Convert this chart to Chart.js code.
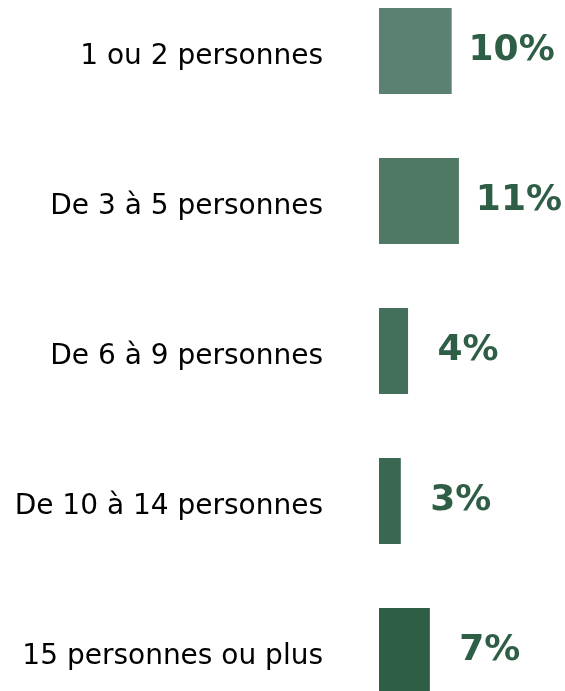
<!DOCTYPE html>
<html>
<head>
<meta charset="utf-8">
<script src="https://cdn.jsdelivr.net/npm/chart.js@4.4.1/dist/chart.umd.min.js"></script>
<style>
  html, body { margin: 0; padding: 0; background: #fff; overflow: hidden; }
  #myChart { position: absolute; left: 0; top: -24px; }
</style>
</head>
<body>
<canvas id="myChart" width="565" height="750"></canvas>
<script>
const categories = [
    "1 ou 2 personnes",
    "De 3 à 5 personnes",
    "De 6 à 9 personnes",
    "De 10 à 14 personnes",
    "15 personnes ou plus",
];
const values = [10, 11, 4, 3, 7];
const barColors = ["#5b8170", "#4f7865", "#446f5b", "#3a6751", "#2f5e46"];
const labelColor = "#2e5e45";

// étiquettes de valeur à droite des barres
const valueLabels = {
    id: "valueLabels",
    afterDatasetsDraw(chart) {
        const ctx = chart.ctx;
        const meta = chart.getDatasetMeta(0);
        ctx.save();
        ctx.font = "bold 36px 'DejaVu Sans'";
        ctx.fillStyle = labelColor;
        ctx.textAlign = "center";
        ctx.textBaseline = "middle";
        meta.data.forEach((bar, i) => {
            ctx.fillText(values[i] + "%", bar.x + 60, bar.y);
        });
        ctx.restore();
    },
};

const chart = new Chart(document.getElementById("myChart"), {
    type: "bar",
    data: {
        labels: categories,
        datasets: [
            {
                data: values,
                backgroundColor: barColors,
                borderWidth: 0,
                categoryPercentage: 1,
                barPercentage: 0.572,
            },
        ],
    },
    options: {
        indexAxis: "y",
        responsive: false,
        animation: false,
        layout: { padding: 0 },
        plugins: {
            legend: { display: false },
            tooltip: { enabled: false },
        },
        scales: {
            x: {
                display: false,
                min: 0,
                max: 25.6,
            },
            y: {
                grid: { display: false, drawTicks: false },
                border: { display: false },
                ticks: {
                    color: "#000",
                    padding: 56,
                    labelOffset: 6,
                    font: { family: "DejaVu Sans", size: 28 },
                },
                afterFit(scale) {
                    scale.width = 379;
                    // pas de marge verticale due au padding des ticks
                    scale.paddingTop = 0;
                    scale.paddingBottom = 0;
                },
            },
        },
    },
    plugins: [valueLabels],
});
</script>
</body>
</html>
